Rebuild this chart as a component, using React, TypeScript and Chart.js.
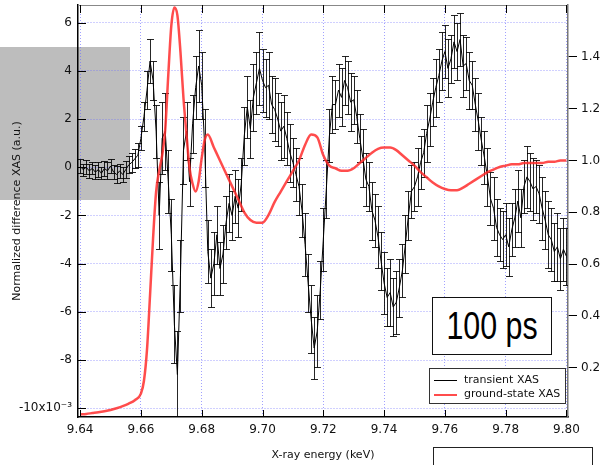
import React, { useEffect, useRef } from 'react';
import { Chart, registerables } from 'chart.js';

Chart.register(...registerables);

// ---- Data (transient values in units of 1e-3) ----
const E_START = 9.64; // keV, first energy of transient scan
const E_STEP = 0.001; // keV (1 eV steps)
const TRANSIENT = [
  0.05, -0.1, 0.0, -0.15, -0.05, -0.2, -0.1, -0.25, -0.05, -0.15,
  0.05, -0.2, -0.3, -0.15, -0.3, -0.1, 0.1, 0.2, 0.35, 0.5,
  1.2, 2.1, 3.2, 4.4, 3.6, 1.5, -2.0, 1.2, 1.5, -0.6,
  -2.8, -6.5, -8.6, -4.5, 0.7, 1.5, -0.6, 1.8, 3.3, 4.2,
  3.4, 0.8, -3.5, -4.6, -4.0, -2.8, -4.2, -3.6, -2.3, -1.5,
  -2.0, -1.2, -1.7, -0.7, 1.3, 2.5, 1.6, 2.9, 3.5, 4.1,
  3.6, 3.3, 3.4, 2.6, 2.4, 2.0, 1.5, 1.7, 1.2, 0.6,
  0.2, -0.3, -0.8, -1.8, -3.2, -4.8, -6.3, -7.5, -6.8, -5.1,
  -3.0, -0.9, 1.3, 2.6, 2.6, 3.2, 2.9, 3.6, 3.3, 2.7,
  2.8, 2.1, 1.2, 0.4, -0.5, -0.8, -1.8, -2.2, -2.9, -3.9,
  -4.8, -5.4, -5.2, -5.8, -5.6, -5.0, -4.3, -3.2, -2.0, -1.0,
  -0.8, -0.4, 0.2, 0.6, 1.4, 2.0, 2.7, 3.3, 3.8, 4.4,
  4.8, 4.1, 4.5, 5.2, 4.8, 5.3, 4.2, 4.3, 3.6, 3.4,
  2.6, 1.9, 1.1, 0.4, -0.4, -1.3, -1.7, -2.5, -2.8, -3.0,
  -2.8, -3.3, -2.6, -2.1, -1.4, -2.1, -0.8, -0.4, -0.6, -0.9,
  -0.8, -1.1, -1.7, -2.2, -2.8, -3.0, -3.5, -3.3, -3.8, -3.4, -3.7,
];
const TRANSIENT_ERR = [
  0.3, 0.25, 0.3, 0.3, 0.25, 0.3, 0.3, 0.25, 0.3, 0.35, 0.3, 0.3, 0.35, 0.3, 0.3, 0.35, 0.35, 0.4, 0.4, 0.5,
  0.5, 0.6, 0.8, 0.9, 0.8, 1.1, 1.4, 1.5, 1.6, 1.3, 1.5, 1.6, 1.8, 1.5, 1.4, 1.2, 1.0, 1.2, 1.3, 1.5,
  1.4, 1.6, 1.3, 1.2, 1.3, 1.2, 1.1, 1.2, 1.1, 1.2, 1.0, 1.1, 1.2, 1.1, 1.2, 1.3, 1.2, 1.4, 1.3, 1.5,
  1.3, 1.2, 1.4, 1.2, 1.3, 1.1, 1.2, 1.3, 1.1, 1.2, 1.0, 1.1, 1.2, 1.1, 1.3, 1.2, 1.4, 1.3, 1.5, 1.2,
  1.3, 1.2, 1.1, 1.2, 1.0, 1.1, 1.2, 1.0, 1.1, 1.2, 1.0, 1.1, 1.0, 1.2, 1.1, 1.0, 1.2, 1.1, 1.3, 1.2,
  1.3, 1.2, 1.4, 1.2, 1.3, 1.2, 1.1, 1.2, 1.0, 1.1, 1.0, 1.2, 1.1, 1.0, 1.2, 1.1, 1.0, 1.2, 1.1, 1.2,
  1.1, 1.2, 1.0, 1.1, 1.2, 1.1, 1.3, 1.1, 1.2, 1.0, 1.1, 1.2, 1.0, 1.1, 1.2, 1.1, 1.3, 1.2, 1.1, 1.2,
  1.3, 1.2, 1.1, 1.2, 1.3, 1.2, 1.1, 1.3, 1.2, 1.3, 1.1, 1.2, 1.3, 1.2, 1.4, 1.3, 1.2, 1.4, 1.3, 1.3, 1.2,
];
const ENERGY = TRANSIENT.map((_, i) => +(E_START + i * E_STEP).toFixed(3));

const GS_ENERGY = [
  9.640, 9.642, 9.644, 9.646, 9.648, 9.650, 9.652, 9.654, 9.656, 9.658,
  9.660, 9.661, 9.662, 9.663, 9.664, 9.665, 9.666, 9.667, 9.668, 9.669,
  9.670, 9.671, 9.672, 9.673, 9.674, 9.675, 9.676, 9.677, 9.678, 9.679,
  9.680, 9.681, 9.682, 9.684, 9.686, 9.688, 9.690, 9.692, 9.694, 9.696,
  9.698, 9.700, 9.702, 9.704, 9.706, 9.708, 9.710, 9.712, 9.714, 9.716,
  9.718, 9.720, 9.722, 9.724, 9.726, 9.728, 9.730, 9.732, 9.734, 9.736,
  9.738, 9.740, 9.742, 9.744, 9.746, 9.748, 9.750, 9.752, 9.754, 9.756,
  9.758, 9.760, 9.762, 9.764, 9.766, 9.768, 9.770, 9.772, 9.774, 9.776,
  9.778, 9.780, 9.782, 9.784, 9.786, 9.788, 9.790, 9.792, 9.794, 9.796,
  9.798, 9.800,
];
const GS_XAS = [
  0.02, 0.022, 0.025, 0.028, 0.032, 0.037, 0.044, 0.052, 0.062, 0.075,
  0.10, 0.15, 0.27, 0.48, 0.70, 0.88, 0.96, 1.02, 1.12, 1.33,
  1.52, 1.59, 1.56, 1.42, 1.24, 1.10, 0.97, 0.91, 0.88, 0.92,
  1.01, 1.08, 1.10, 1.05, 1.00, 0.95, 0.90, 0.85, 0.80, 0.77,
  0.76, 0.76, 0.79, 0.84, 0.88, 0.92, 0.96, 1.00, 1.06, 1.10,
  1.09, 1.02, 0.98, 0.97, 0.96, 0.96, 0.97, 0.99, 1.01, 1.03,
  1.045, 1.05, 1.05, 1.04, 1.02, 1.00, 0.98, 0.955, 0.935, 0.915,
  0.90, 0.89, 0.885, 0.885, 0.895, 0.91, 0.925, 0.94, 0.955, 0.965,
  0.975, 0.98, 0.985, 0.985, 0.99, 0.99, 0.99, 0.99, 0.995, 0.995,
  1.0, 1.0,
];

const X_TICKS = [9.64, 9.66, 9.68, 9.7, 9.72, 9.74, 9.76, 9.78, 9.8];
const Y_TICKS = [-10, -8, -6, -4, -2, 0, 2, 4, 6];
const Y2_TICKS = [0.2, 0.4, 0.6, 0.8, 1.0, 1.2, 1.4];

const FONT = 'DejaVu Sans';

const errorBarPlugin = {
  id: 'errorBars',
  afterDatasetDraw(chart: any, args: any) {
    if (args.index !== 0) return;
    const { ctx, chartArea: a } = chart;
    const xs = chart.scales.x;
    const ys = chart.scales.y;
    ctx.save();
    ctx.beginPath();
    ctx.rect(a.left, a.top, a.right - a.left, a.bottom - a.top);
    ctx.clip();
    ctx.strokeStyle = 'rgba(0,0,0,0.85)';
    ctx.lineWidth = 1;
    ctx.beginPath();
    ENERGY.forEach((e, i) => {
      const x = Math.round(xs.getPixelForValue(e)) + 0.5;
      const yT = Math.round(ys.getPixelForValue(TRANSIENT[i] + TRANSIENT_ERR[i])) + 0.5;
      const yB = Math.round(ys.getPixelForValue(TRANSIENT[i] - TRANSIENT_ERR[i])) + 0.5;
      ctx.moveTo(x, yT);
      ctx.lineTo(x, yB);
      ctx.moveTo(x - 3.5, yT);
      ctx.lineTo(x + 3.5, yT);
      ctx.moveTo(x - 3.5, yB);
      ctx.lineTo(x + 3.5, yB);
    });
    ctx.stroke();
    ctx.restore();
  },
};

const frameTicksPlugin = {
  id: 'frameTicks',
  afterDraw(chart: any) {
    const { ctx, chartArea: a, scales } = chart;
    ctx.save();
    ctx.strokeStyle = '#888';
    ctx.lineWidth = 1;
    ctx.beginPath();
    ctx.moveTo(a.left, a.top + 0.5);
    ctx.lineTo(a.right, a.top + 0.5);
    ctx.stroke();
    ctx.strokeStyle = '#000';
    ctx.beginPath();
    X_TICKS.forEach((v) => {
      const x = Math.round(scales.x.getPixelForValue(v)) + 0.5;
      ctx.moveTo(x, a.bottom);
      ctx.lineTo(x, a.bottom - 7);
      ctx.moveTo(x, a.top);
      ctx.lineTo(x, a.top + 8);
    });
    Y_TICKS.forEach((v) => {
      const y = Math.round(scales.y.getPixelForValue(v)) + 0.5;
      ctx.moveTo(a.left, y);
      ctx.lineTo(a.left + 8, y);
    });
    ctx.stroke();
    ctx.restore();
  },
};

export default function App() {
  const ref = useRef<HTMLCanvasElement | null>(null);

  useEffect(() => {
    if (!ref.current) return;
    const gridColor = 'rgba(110,110,255,0.65)';
    const chart = new Chart(ref.current, {
      type: 'line',
      data: {
        datasets: [
          {
            label: 'transient XAS',
            data: ENERGY.map((e, i) => ({ x: e, y: TRANSIENT[i] })),
            yAxisID: 'y',
            borderColor: '#000',
            borderWidth: 1,
            pointRadius: 0,
            tension: 0,
            order: 1,
          },
          {
            label: 'ground-state XAS',
            data: GS_ENERGY.map((e, i) => ({ x: e, y: GS_XAS[i] })),
            yAxisID: 'y2',
            borderColor: 'rgba(255,45,45,0.85)',
            borderWidth: 2.5,
            pointRadius: 0,
            cubicInterpolationMode: 'monotone',
            order: 0,
          },
        ],
      },
      options: {
        responsive: false,
        maintainAspectRatio: false,
        animation: false,
        devicePixelRatio: 1,
        layout: { padding: { top: 5, left: 0, right: 0, bottom: 0 } },
        plugins: { legend: { display: false }, tooltip: { enabled: false } },
        scales: {
          x: {
            type: 'linear',
            position: 'bottom',
            min: 9.6393,
            max: 9.8005,
            afterBuildTicks: (s: any) => {
              s.ticks = X_TICKS.map((v) => ({ value: v }));
            },
            afterFit: (s: any) => {
              s.height = 48;
              s.paddingLeft = 0;
              s.paddingRight = 0;
            },
            ticks: {
              autoSkip: false,
              maxRotation: 0,
              padding: 6,
              color: '#111',
              font: { family: FONT, size: 12 },
              callback: (v: any) => Number(v).toFixed(2),
            },
            grid: { color: gridColor, lineWidth: 1, drawTicks: false },
            border: { color: '#000', width: 1.5, dash: [1, 2] },
            title: {
              display: true,
              text: 'X-ray energy (keV)',
              color: '#111',
              font: { family: FONT, size: 11 },
              padding: { top: 0, bottom: 3 },
            },
          },
          y: {
            type: 'linear',
            position: 'left',
            min: -10.36,
            max: 6.73,
            afterBuildTicks: (s: any) => {
              s.ticks = Y_TICKS.map((v) => ({ value: v }));
            },
            afterFit: (s: any) => {
              s.width = 78;
              s.paddingTop = 0;
              s.paddingBottom = 0;
            },
            ticks: {
              padding: 6,
              color: '#111',
              font: { family: FONT, size: 12 },
              callback: (v: any) => (Number(v) === -10 ? '-10x10\u207B\u00B3' : String(v)),
            },
            grid: { color: gridColor, lineWidth: 1, drawTicks: false },
            border: { color: '#000', width: 1.5, dash: [1, 2] },
            title: {
              display: true,
              text: 'Normalized difference XAS (a.u.)',
              color: '#111',
              font: { family: FONT, size: 11 },
              padding: { top: 11, bottom: 0 },
            },
          },
          y2: {
            type: 'linear',
            position: 'right',
            min: 0.01,
            max: 1.6,
            afterBuildTicks: (s: any) => {
              s.ticks = Y2_TICKS.map((v) => ({ value: v }));
            },
            afterFit: (s: any) => {
              s.width = 38;
              s.paddingTop = 0;
              s.paddingBottom = 0;
            },
            ticks: {
              padding: 4,
              color: '#111',
              font: { family: FONT, size: 12 },
              callback: (v: any) => Number(v).toFixed(1),
            },
            grid: { drawOnChartArea: false, drawTicks: true, tickLength: 9, color: '#000' },
            border: { color: '#777', width: 1.5 },
          },
        },
      },
      plugins: [errorBarPlugin, frameTicksPlugin],
    } as any);
    return () => chart.destroy();
  }, []);

  return (
    <div
      style={{
        position: 'fixed',
        left: 0,
        top: 0,
        width: 606,
        height: 465,
        background: '#fff',
        overflow: 'hidden',
        fontFamily: FONT,
      }}
    >
      <div style={{ position: 'absolute', left: 0, top: 47, width: 130, height: 153, background: '#bdbdbd' }} />
      <canvas
        ref={ref}
        width={606}
        height={465}
        style={{ position: 'absolute', left: 0, top: 0, width: 606, height: 465 }}
      />
      <div
        style={{
          position: 'absolute',
          left: 432,
          top: 297,
          width: 118,
          height: 56,
          border: '1px solid #111',
          background: '#fff',
          display: 'flex',
          alignItems: 'center',
          justifyContent: 'center',
          fontFamily: "'Liberation Sans', Arial, sans-serif",
          fontSize: 38,
          color: '#000',
        }}
      >
        <span style={{ display: 'inline-block', transform: 'scaleX(0.8)', whiteSpace: 'nowrap' }}>100 ps</span>
      </div>
      <div
        style={{
          position: 'absolute',
          left: 429,
          top: 368,
          width: 135,
          height: 34,
          border: '1px solid #333',
          background: '#fff',
          fontSize: 11,
          color: '#111',
        }}
      >
        <div style={{ position: 'absolute', left: 4, top: 11, width: 23, height: 1, background: '#000' }} />
        <div style={{ position: 'absolute', left: 34, top: 4, lineHeight: '13px', whiteSpace: 'nowrap' }}>transient XAS</div>
        <div style={{ position: 'absolute', left: 4, top: 25, width: 23, height: 2, background: 'rgba(255,45,45,0.85)' }} />
        <div style={{ position: 'absolute', left: 34, top: 18, lineHeight: '13px', whiteSpace: 'nowrap' }}>ground-state XAS</div>
      </div>
      <div
        style={{
          position: 'absolute',
          left: 433,
          top: 447,
          width: 158,
          height: 40,
          border: '1px solid #222',
          background: '#fff',
        }}
      />
    </div>
  );
}
